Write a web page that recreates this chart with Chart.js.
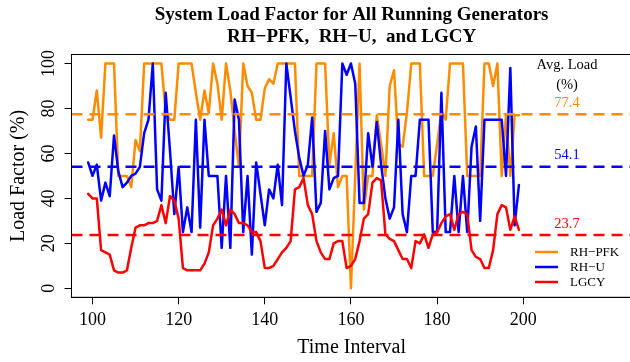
<!DOCTYPE html>
<html>
<head>
<meta charset="utf-8">
<script src="https://cdn.jsdelivr.net/npm/chart.js@4.4.1/dist/chart.umd.min.js"></script>
<style>
  html, body { margin: 0; padding: 0; background: #fff; overflow: hidden; }
  #wrap { width: 640px; height: 362px; }
</style>
</head>
<body>
<div id="wrap"><canvas id="loadChart" width="640" height="362"></canvas></div>
<script>
// time intervals 99..199, load factor in percent
const timeStart = 99;

const rhPfk = [
  75, 75, 88, 67, 100, 100, 100, 50, 50, 50,
  45, 66, 61, 100, 100, 100, 100, 100, 78, 75,
  75, 100, 100, 100, 100, 87, 75, 88, 78, 100,
  91, 75, 100, 88, 70, 54, 100, 90, 87, 75,
  75, 89, 93, 91, 100, 100, 100, 100, 100, 50,
  50, 50, 50, 100, 100, 100, 55, 69, 45, 50,
  50, 0, 50, 100, 35, 50, 50, 77, 64, 50,
  90, 97, 64, 63, 78, 100, 100, 100, 50, 50,
  50, 64, 79, 75, 100, 100, 100, 100, 50, 50,
  50, 50, 100, 100, 90, 100, 50, 77, 50, 77,
  77
];

const rhU = [
  56, 50, 55, 39, 47, 41, 68, 52, 45, 47,
  50, 51, 54, 69, 75, 100, 44, 39, 87, 61,
  33, 54, 25, 36, 25, 75, 27, 75, 50, 50,
  50, 18, 50, 18, 84, 75, 25, 50, 15, 56,
  42, 28, 44, 40, 55, 37, 100, 85, 70, 58,
  50, 55, 76, 34, 38, 70, 44, 49, 50, 100,
  95, 100, 91, 38, 38, 69, 54, 74, 55, 40,
  31, 36, 75, 33, 25, 50, 50, 75, 75, 75,
  25, 25, 87, 25, 25, 50, 25, 50, 25, 63,
  72, 30, 75, 75, 75, 75, 75, 50, 98, 28,
  46
];

const lgcy = [
  42, 40, 40, 17, 16, 15, 8, 7, 7, 8,
  18, 27, 28, 28, 29, 29, 30, 37, 29, 41,
  39, 31, 9, 8, 8, 8, 8, 11, 16, 28,
  31, 35, 28, 35, 33, 29, 29, 28, 25, 25,
  21, 9, 9, 10, 13, 16, 18, 21, 44, 45,
  49, 37, 33, 21, 16, 13, 13, 20, 21, 21,
  9, 10, 13, 21, 31, 33, 47, 49, 48, 24,
  22, 21, 17, 13, 13, 9, 21, 20, 24, 18,
  24, 25, 29, 32, 33, 26, 33, 34, 33, 17,
  14, 13, 9, 9, 17, 33, 37, 36, 26, 32,
  26
];

const seriesNames = ['RH\u2212PFK', 'RH\u2212U', 'LGCY'];
const avgLoad = [77.4, 54.1, 23.7];
const xTicks = [100, 120, 140, 160, 180, 200];
const yTicks = [0, 20, 40, 60, 80, 100];

const colors = ['#FF8C00', '#0000FF', '#FF0000'];
const serif = "'Liberation Serif', 'DejaVu Serif', serif";
const X_MIN = 95.13, X_MAX = 225.2;

const toPoints = vals => vals.map((v, i) => ({ x: timeStart + i, y: v }));

const seriesSets = [rhPfk, rhU, lgcy].map((vals, i) => ({
  label: seriesNames[i],
  data: toPoints(vals),
  borderColor: colors[i],
  borderWidth: 2.5,
  pointRadius: 0,
  tension: 0,
  borderJoinStyle: 'round',
  borderCapStyle: 'round',
  order: 4 - i
}));

const avgSets = avgLoad.map((v, i) => ({
  label: 'avg ' + seriesNames[i],
  data: [{ x: X_MIN, y: v }, { x: X_MAX, y: v }],
  borderColor: colors[i],
  borderWidth: 2.5,
  borderDash: [11, 7],
  pointRadius: 0,
  order: 0
}));

// box, title, rotated y labels, average notes and the legend
const decorations = {
  id: 'decorations',
  afterDraw(chart) {
    const { ctx, chartArea: a, scales } = chart;
    const ys = scales.y;
    ctx.save();

    ctx.strokeStyle = '#000';
    ctx.lineWidth = 1;
    ctx.strokeRect(a.left, a.top, a.right - a.left, a.bottom - a.top);

    ctx.fillStyle = '#000';
    ctx.textAlign = 'center';
    ctx.textBaseline = 'middle';
    ctx.font = 'bold 19px ' + serif;
    const cx = (a.left + a.right) / 2;
    ctx.fillText('System Load Factor for All Running Generators', cx, 15);
    ctx.fillText('RH\u2212PFK,  RH\u2212U,  and LGCY', cx, 37);

    ctx.font = '18px ' + serif;
    yTicks.forEach(v => {
      ctx.save();
      ctx.translate(49, ys.getPixelForValue(v));
      ctx.rotate(-Math.PI / 2);
      ctx.fillText(String(v), 0, 0);
      ctx.restore();
    });

    ctx.font = '14.5px ' + serif;
    ctx.fillText('Avg. Load', 567, 65);
    ctx.fillText('(%)', 567, 85);
    avgLoad.forEach((v, i) => {
      ctx.fillStyle = colors[i];
      ctx.fillText(v.toFixed(1), 567, ys.getPixelForValue(v) - 11);
    });

    ctx.font = '13px ' + serif;
    ctx.textAlign = 'left';
    ctx.lineWidth = 2.5;
    seriesNames.forEach((name, i) => {
      const y = 252 + i * 15;
      ctx.strokeStyle = colors[i];
      ctx.beginPath();
      ctx.moveTo(535, y);
      ctx.lineTo(558, y);
      ctx.stroke();
      ctx.fillStyle = '#000';
      ctx.fillText(name, 570, y + 1);
    });
    ctx.restore();
  }
};

new Chart(document.getElementById('loadChart'), {
  type: 'line',
  data: { datasets: seriesSets.concat(avgSets) },
  options: {
    responsive: false,
    animation: false,
    events: [],
    layout: { padding: { top: 54.5, right: 8.2, left: 0, bottom: 0 } },
    plugins: {
      legend: { display: false },
      tooltip: { enabled: false }
    },
    scales: {
      x: {
        type: 'linear',
        min: X_MIN,
        max: X_MAX,
        afterBuildTicks: s => { s.ticks = xTicks.map(v => ({ value: v })); },
        afterFit: s => { s.height = 64.7; },
        grid: { drawOnChartArea: false, drawTicks: true, tickLength: 7, color: '#000', tickColor: '#000' },
        border: { display: true, color: '#000' },
        ticks: { color: '#000', font: { family: serif, size: 18 }, padding: 5, maxRotation: 0, autoSkip: false },
        title: { display: true, text: 'Time Interval', color: '#000', font: { family: serif, size: 20 }, padding: { top: 0, bottom: 2 } }
      },
      y: {
        type: 'linear',
        min: -4,
        max: 104,
        afterBuildTicks: s => { s.ticks = yTicks.map(v => ({ value: v })); },
        afterFit: s => { s.width = 71.5; },
        grid: { drawOnChartArea: false, drawTicks: true, tickLength: 7, color: '#000', tickColor: '#000' },
        border: { display: true, color: '#000' },
        ticks: { display: false },
        title: { display: true, text: 'Load Factor (%)', color: '#000', font: { family: serif, size: 20 }, padding: { top: 7, bottom: 0 } }
      }
    }
  },
  plugins: [decorations]
});
</script>
</body>
</html>
